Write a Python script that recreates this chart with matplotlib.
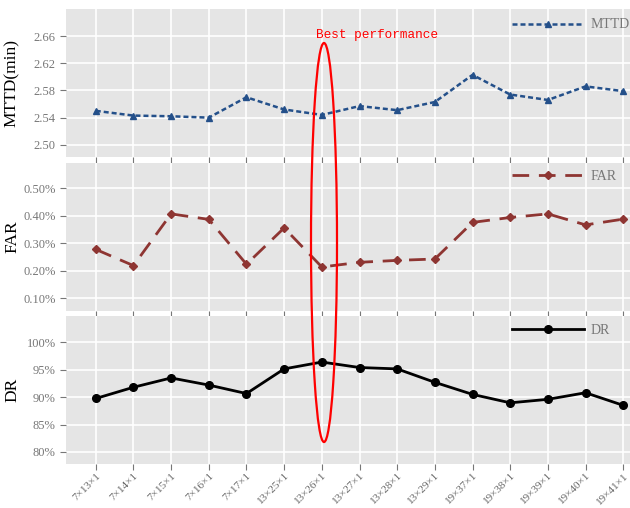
import matplotlib.pyplot as plt
from matplotlib.patches import Ellipse

# grid sizes (x labels) and the three metrics
configs = ['7×13×1', '7×14×1', '7×15×1', '7×16×1', '7×17×1', '13×25×1', '13×26×1',
           '13×27×1', '13×28×1', '13×29×1', '19×37×1', '19×38×1', '19×39×1',
           '19×40×1', '19×41×1']
mttd = [2.550, 2.543, 2.542, 2.540, 2.570, 2.552, 2.544, 2.557, 2.551, 2.563,
        2.603, 2.574, 2.566, 2.586, 2.579]
far = [0.278, 0.219, 0.407, 0.387, 0.224, 0.356, 0.214, 0.231, 0.238, 0.243,
       0.376, 0.394, 0.407, 0.367, 0.388]
dr = [89.75, 91.8, 93.5, 92.2, 90.65, 95.15, 96.4, 95.4, 95.15, 92.7,
      90.5, 88.96, 89.6, 90.8, 88.5]

mttd_ticks = [2.50, 2.54, 2.58, 2.62, 2.66]
far_ticks = [0.10, 0.20, 0.30, 0.40, 0.50]
dr_ticks = [80, 85, 90, 95, 100]

plt.style.use('ggplot')
plt.rcParams['font.family'] = ['Liberation Serif', 'DejaVu Serif']

fig = plt.figure(figsize=(6.3, 5.08), dpi=100)
W, H = 630, 508


def make_ax(top, bottom):
    return fig.add_axes([66 / W, 1 - bottom / H, 587 / W, (bottom - top) / H])


ax1 = make_ax(9, 157)
ax2 = make_ax(163, 311)
ax3 = make_ax(316, 464)

x = list(range(len(configs)))

ax1.plot(x, mttd, color='#24508a', lw=1.8, ls=(0, (2, 1.2)), marker='^', ms=5,
         label='MTTD')
ax2.plot(x, far, color='#8e3532', lw=2, ls=(0, (6, 3.5)), marker='D', ms=4.5,
         label='FAR')
ax3.plot(x, dr, color='black', lw=2, marker='o', ms=5.5, label='DR')

ax1.set_ylim(2.482, 2.70)
ax1.set_yticks(mttd_ticks)
ax1.set_yticklabels(['%.2f' % v for v in mttd_ticks])
ax2.set_ylim(0.054, 0.592)
ax2.set_yticks(far_ticks)
ax2.set_yticklabels(['%.2f%%' % v for v in far_ticks])
ax3.set_ylim(77.8, 104.8)
ax3.set_yticks(dr_ticks)
ax3.set_yticklabels(['%d%%' % v for v in dr_ticks])

for ax, name in [(ax1, 'MTTD(min)'), (ax2, 'FAR'), (ax3, 'DR')]:
    ax.set_xlim(-0.79, len(configs) - 1 + 0.79)
    ax.set_xticks(x)
    ax.set_facecolor('#e5e5e5')
    ax.grid(True, color='white', lw=1.2)
    ax.tick_params(axis='y', labelsize=9, labelcolor='#777777', color='#777777', length=4)
    ax.tick_params(axis='x', color='#777777', length=4, pad=1)
    ax.set_ylabel(name, fontsize=12.5, color='black')
    ax.yaxis.set_label_coords(-0.078, 0.5)
    for s in ax.spines.values():
        s.set_visible(False)

ax1.tick_params(axis='x', labelbottom=False)
ax2.tick_params(axis='x', labelbottom=False)
ax3.set_xticklabels(configs, rotation=45, ha='right', rotation_mode='anchor',
                    fontsize=8, color='#666666')

# legends sit at the top right of each panel
for ax, ly in [(ax1, 25), (ax2, 176), (ax3, 330)]:
    ax.legend(loc='center left', bbox_to_anchor=(512 / W, 1 - ly / H),
              bbox_transform=fig.transFigure, frameon=False, borderpad=0,
              borderaxespad=0, handlelength=5.2, handletextpad=0.45,
              fontsize=10, labelcolor='#777777')

# highlight the best configuration
fig.patches.append(Ellipse((324 / W, 1 - 242.5 / H), 26 / W, 399 / H,
                           transform=fig.transFigure, fill=False,
                           edgecolor='red', lw=1.6))
fig.text(316 / W, 1 - 35 / H, 'Best performance', color='red', fontsize=9.2,
         family='Liberation Mono', ha='left', va='center')

fig.savefig('out.png', dpi=100)
